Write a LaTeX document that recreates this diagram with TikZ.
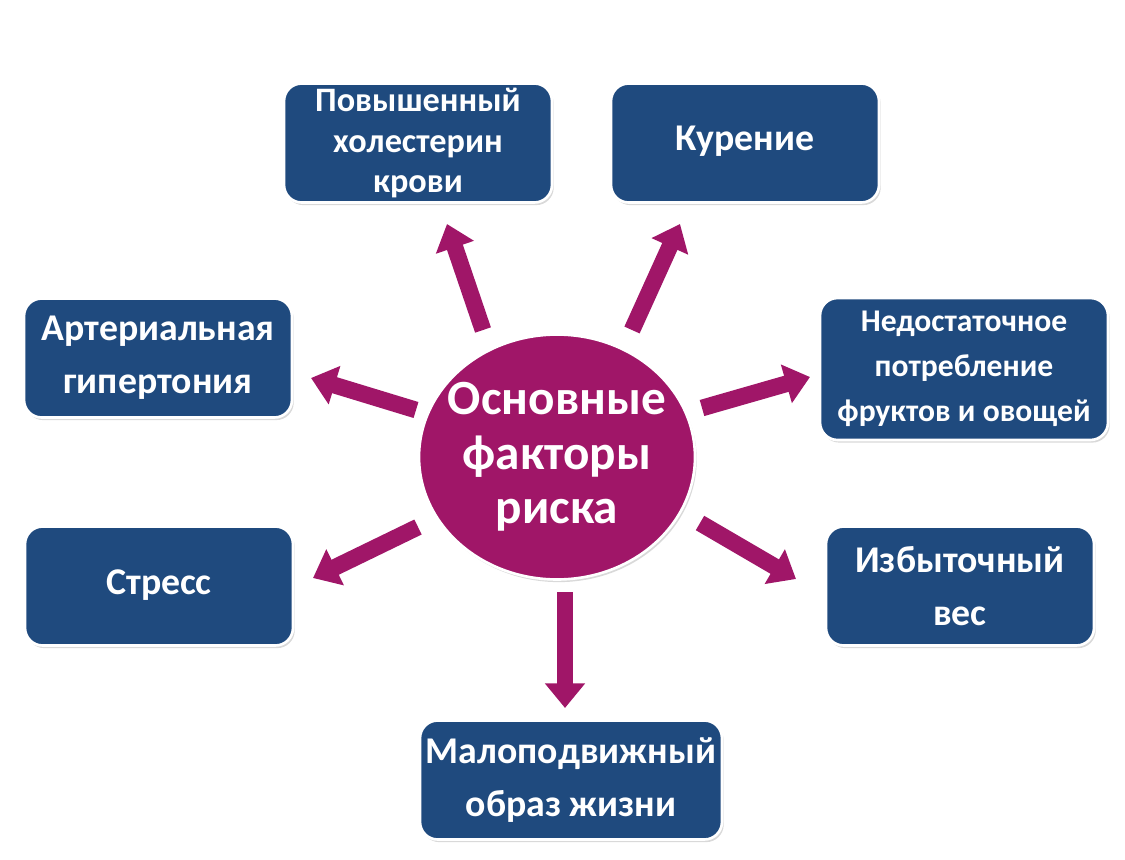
\documentclass[tikz,border=0pt]{standalone}
\usepackage{fontspec}
\setmainfont{Carlito}
\usetikzlibrary{arrows.meta,shapes.geometric,shadows}
\definecolor{boxblue}{RGB}{31,74,126}
\definecolor{riskred}{RGB}{160,22,104}
\tikzset{
     factor/.style = {draw=white, line width=1.5pt, fill=boxblue, rounded corners=10pt,
        text=white, align=center, inner sep=2pt,
        font=\bfseries\fontsize{21.5}{30}\selectfont,
        minimum width=5.36cm, minimum height=2.38cm,
        drop shadow={opacity=0.3, shadow xshift=1pt, shadow yshift=-1.5pt}},
      core/.style = {ellipse, draw=white, line width=1.5pt, fill=riskred, text=white,
        align=center, inner xsep=-8pt, inner ysep=0pt, minimum width=5.52cm, minimum height=4.9cm,
        font=\bfseries\fontsize{28}{31}\selectfont,
        drop shadow={opacity=0.3, shadow xshift=1pt, shadow yshift=-1.5pt}},
      riskarrow/.style = {draw=riskred, line width=9.5pt, -{Triangle[length=14pt,width=22pt]},
        preaction={draw=white, line width=12.5pt, -{Triangle[length=16pt,width=27pt]}}},
    }

\begin{document}
\begin{tikzpicture}[x=0.02cm, y=-0.02cm]
        \useasboundingbox (0,0) rectangle (1125,859);

        \node [core] (core) at (557,457) {Основные\\факторы\\риска};

        \node [factor, font=\bfseries\fontsize{19.5}{23}\selectfont]
                       (chol)   at (418,143)  {Повышенный\\холестерин\\крови};
        \node [factor] (smoke)  at (745,143)  {\raisebox{5pt}{Курение}};
        \node [factor] (hyper)  at (158,358)  {Артериальная\\гипертония};
        \node [factor, minimum width=5.76cm, minimum height=2.84cm,
               font=\bfseries\fontsize{18}{25.5}\selectfont]
                       (fruit)  at (964,369)  {Недостаточное\\потребление\\фруктов и овощей};
        \node [factor] (stress) at (159,586)  {\raisebox{5pt}{Стресс}};
        \node [factor] (weight) at (960,586)  {Избыточный\\вес};
        \node [factor, minimum width=6.04cm] (sedent) at (571,780) {Малоподвижный\\образ жизни};

        % arrow ends
        \coordinate (t1) at (483,330); \coordinate (h1) at (447,224);
        \coordinate (t2) at (632,330); \coordinate (h2) at (680,224);
        \coordinate (t3) at (416,410); \coordinate (h3) at (311,378);
        \coordinate (t4) at (418,527); \coordinate (h4) at (313,578);
        \coordinate (t5) at (702,408); \coordinate (h5) at (810,377);
        \coordinate (t6) at (700,523); \coordinate (h6) at (796,579);
        \coordinate (t7) at (565,592); \coordinate (h7) at (565,708);

        \foreach \i in {1,...,7}
            \draw [riskarrow] (t\i) -- (h\i);
\end{tikzpicture}
\end{document}
